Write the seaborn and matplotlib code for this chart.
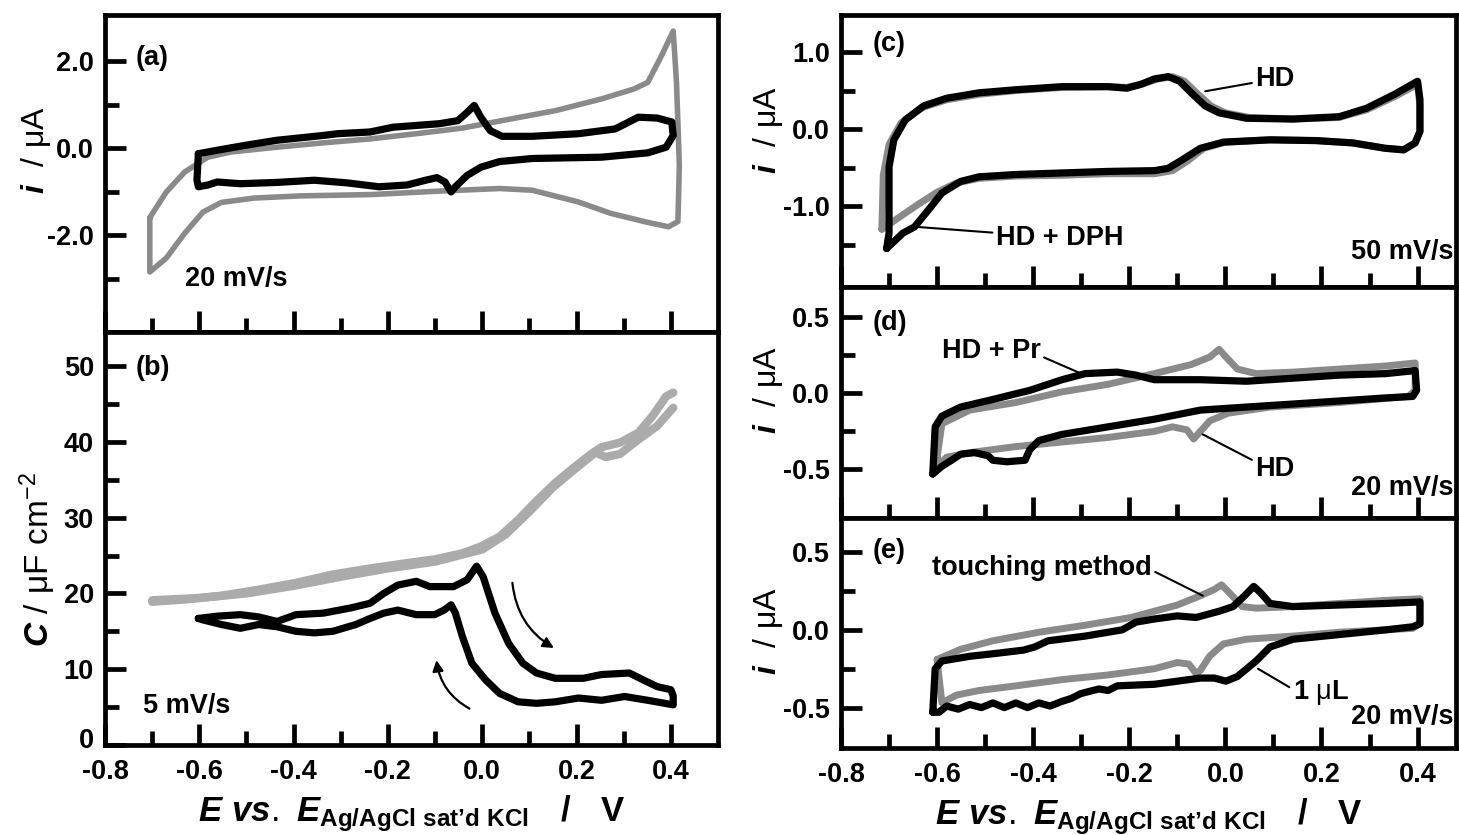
import numpy as np
import matplotlib
matplotlib.use('Agg')
import matplotlib.pyplot as plt
import matplotlib.transforms as mtransforms
import seaborn as sns
from matplotlib import font_manager

# ---------------- data ----------------
# (a) CV at 20 mV/s
a_gray_E = [-0.705, -0.705, -0.67, -0.631, -0.592, -0.553, -0.484, -0.386, -0.238, -0.091, 0.037, 0.106,
            0.204, 0.272, 0.351, 0.395, 0.415, 0.418, 0.412, 0.405, 0.380, 0.351, 0.322, 0.253, 0.155,
            0.056, -0.042, -0.140, -0.238, -0.337, -0.435, -0.533, -0.582, -0.631, -0.670, -0.705]
a_gray_i = [-1.60, -2.85, -2.53, -1.96, -1.47, -1.25, -1.15, -1.10, -1.07, -0.99, -0.93, -0.97,
            -1.24, -1.50, -1.71, -1.81, -1.69, -0.40, 1.51, 2.69, 2.12, 1.51, 1.36, 1.13, 0.86,
            0.66, 0.46, 0.33, 0.21, 0.12, 0.02, -0.09, -0.21, -0.55, -1.01, -1.60]
a_black_E = [-0.602, -0.562, -0.504, -0.435, -0.337, -0.307, -0.238, -0.189, -0.091, -0.052, -0.032, -0.017,
             -0.003, 0.017, 0.042, 0.106, 0.204, 0.282, 0.331, 0.371, 0.402, 0.405, 0.390, 0.351, 0.253,
             0.106, 0.037, -0.003, -0.032, -0.057, -0.066, -0.079, -0.096, -0.120, -0.160, -0.219, -0.287,
             -0.356, -0.435, -0.513, -0.562, -0.582, -0.602, -0.605, -0.602]
a_black_i = [-0.13, -0.05, 0.06, 0.18, 0.29, 0.33, 0.37, 0.48, 0.56, 0.63, 0.82, 0.98,
             0.71, 0.40, 0.27, 0.27, 0.33, 0.44, 0.71, 0.69, 0.60, 0.29, 0.02, -0.11, -0.21,
             -0.24, -0.31, -0.44, -0.63, -0.89, -1.01, -0.78, -0.68, -0.74, -0.85, -0.89, -0.80,
             -0.74, -0.79, -0.82, -0.78, -0.85, -0.89, -0.74, -0.13]

# (b) capacitance at 5 mV/s
b_gray1_E = [-0.700, -0.631, -0.553, -0.474, -0.395, -0.317, -0.238, -0.160, -0.101, -0.042, -0.003, 0.037,
             0.076, 0.115, 0.155, 0.194, 0.233, 0.253, 0.292, 0.331, 0.361, 0.390, 0.405]
b_gray1_C = [18.9, 19.2, 19.7, 20.5, 21.4, 22.5, 23.3, 24.0, 24.5, 25.3, 26.2, 27.5,
             29.7, 32.2, 34.6, 36.6, 38.5, 39.3, 39.9, 41.2, 43.4, 46.0, 46.5]
b_gray2_E = [-0.700, -0.600, -0.500, -0.400, -0.300, -0.200, -0.100, 0.000, 0.050, 0.100, 0.150, 0.200,
             0.240, 0.262, 0.292, 0.331, 0.371, 0.405]
b_gray2_C = [19.1, 19.4, 20.0, 21.0, 22.2, 23.3, 24.2, 25.8, 27.8, 30.8, 34.0, 36.6,
             38.6, 38.0, 38.4, 40.3, 42.1, 44.5]
b_black_E = [-0.602, -0.562, -0.513, -0.474, -0.435, -0.395, -0.337, -0.278, -0.238, -0.209, -0.179, -0.140,
             -0.111, -0.061, -0.032, -0.012, 0.002, 0.027, 0.056, 0.086, 0.115, 0.155, 0.214, 0.253,
             0.312, 0.341, 0.371, 0.400, 0.405, 0.405, 0.351, 0.302, 0.253, 0.204, 0.155, 0.115,
             0.076, 0.037, 0.007, -0.022, -0.042, -0.057, -0.066, -0.081, -0.101, -0.140, -0.179, -0.209,
             -0.238, -0.268, -0.317, -0.356, -0.395, -0.435, -0.474, -0.513, -0.553, -0.592, -0.602]
b_black_C = [16.7, 17.0, 17.2, 16.9, 16.3, 17.2, 17.4, 18.1, 18.7, 20.0, 21.1, 21.6,
             20.9, 20.9, 21.8, 23.6, 22.2, 17.4, 13.4, 10.8, 9.5, 8.8, 8.8, 9.3,
             9.5, 8.6, 7.7, 7.3, 6.5, 5.3, 5.9, 6.4, 5.9, 6.2, 5.7, 5.5,
             5.7, 6.8, 8.6, 10.8, 14.3, 17.4, 18.5, 17.8, 17.2, 17.2, 17.8, 17.4,
             16.7, 15.9, 15.0, 14.8, 15.0, 15.6, 15.9, 15.4, 15.9, 16.5, 16.7]

# (c) HD vs HD + DPH, 50 mV/s
c_gray_E = [-0.715, -0.712, -0.700, -0.675, -0.630, -0.580, -0.513, -0.436, -0.340, -0.244, -0.205, -0.170,
            -0.140, -0.110, -0.085, -0.060, -0.030, 0.000, 0.050, 0.140, 0.237, 0.294, 0.352, 0.400,
            0.405, 0.405, 0.395, 0.371, 0.333, 0.265, 0.189, 0.093, 0.000, -0.045, -0.080, -0.110,
            -0.148, -0.244, -0.340, -0.436, -0.513, -0.560, -0.600, -0.640, -0.680, -0.715]
c_gray_i = [-1.30, -0.60, -0.20, 0.08, 0.28, 0.38, 0.45, 0.50, 0.54, 0.55, 0.54, 0.59,
            0.65, 0.68, 0.62, 0.47, 0.30, 0.21, 0.15, 0.13, 0.15, 0.25, 0.42, 0.58,
            0.30, -0.03, -0.18, -0.27, -0.25, -0.18, -0.15, -0.14, -0.17, -0.25, -0.42, -0.54,
            -0.58, -0.58, -0.60, -0.61, -0.64, -0.70, -0.82, -0.98, -1.15, -1.30]
c_black_E = [-0.705, -0.700, -0.700, -0.690, -0.666, -0.628, -0.580, -0.513, -0.436, -0.340, -0.244, -0.205,
             -0.176, -0.148, -0.119, -0.095, -0.071, -0.042, -0.013, 0.044, 0.141, 0.237, 0.294, 0.352,
             0.400, 0.405, 0.405, 0.395, 0.371, 0.333, 0.265, 0.189, 0.093, -0.004, -0.052, -0.090,
             -0.119, -0.148, -0.244, -0.340, -0.436, -0.513, -0.551, -0.590, -0.618, -0.647, -0.671, -0.705]
c_black_i = [-1.55, -1.35, -0.49, -0.14, 0.12, 0.30, 0.40, 0.47, 0.51, 0.55, 0.55, 0.53,
             0.58, 0.65, 0.68, 0.62, 0.47, 0.30, 0.21, 0.14, 0.13, 0.16, 0.27, 0.45,
             0.62, 0.38, -0.03, -0.18, -0.27, -0.25, -0.18, -0.15, -0.14, -0.17, -0.25, -0.40,
             -0.51, -0.54, -0.55, -0.57, -0.59, -0.62, -0.68, -0.83, -1.05, -1.27, -1.35, -1.55]

# (d) HD vs HD + Pr, 20 mV/s
d_gray_E = [-0.600, -0.590, -0.532, -0.436, -0.340, -0.244, -0.148, -0.071, -0.032, -0.013, 0.001, 0.025,
            0.064, 0.141, 0.237, 0.333, 0.395, 0.395, 0.381, 0.237, 0.093, 0.006, -0.032, -0.052,
            -0.066, -0.080, -0.110, -0.148, -0.244, -0.340, -0.436, -0.532, -0.580, -0.600, -0.600]
d_gray_i = [-0.42, -0.20, -0.11, -0.06, 0.01, 0.06, 0.13, 0.19, 0.24, 0.29, 0.24, 0.16,
            0.13, 0.14, 0.16, 0.18, 0.20, 0.02, -0.02, -0.06, -0.09, -0.13, -0.18, -0.25,
            -0.30, -0.24, -0.22, -0.25, -0.29, -0.32, -0.35, -0.39, -0.42, -0.48, -0.42]
d_black_E = [-0.609, -0.604, -0.590, -0.551, -0.484, -0.407, -0.340, -0.292, -0.225, -0.186, -0.148, -0.052,
             0.044, 0.141, 0.237, 0.333, 0.395, 0.398, 0.390, 0.333, 0.237, 0.141, 0.044, -0.052,
             -0.148, -0.244, -0.340, -0.388, -0.407, -0.417, -0.455, -0.484, -0.494, -0.522, -0.551, -0.570,
             -0.590, -0.609]
d_black_i = [-0.53, -0.22, -0.15, -0.09, -0.04, 0.02, 0.09, 0.13, 0.14, 0.12, 0.09, 0.09,
             0.08, 0.10, 0.12, 0.13, 0.15, 0.02, -0.02, -0.03, -0.05, -0.07, -0.09, -0.11,
             -0.17, -0.22, -0.27, -0.31, -0.37, -0.44, -0.45, -0.44, -0.41, -0.39, -0.40, -0.44,
             -0.48, -0.53]

# (e) touching method vs 1 uL, 20 mV/s
e_gray_E = [-0.600, -0.551, -0.484, -0.388, -0.292, -0.196, -0.100, -0.052, -0.023, -0.008, 0.011, 0.035,
            0.064, 0.141, 0.237, 0.333, 0.405, 0.405, 0.390, 0.237, 0.141, 0.044, -0.004, -0.033,
            -0.052, -0.061, -0.076, -0.100, -0.148, -0.244, -0.340, -0.436, -0.513, -0.560, -0.590, -0.600]
e_gray_i = [-0.19, -0.125, -0.07, -0.015, 0.03, 0.08, 0.16, 0.22, 0.26, 0.29, 0.23, 0.15,
            0.14, 0.15, 0.17, 0.19, 0.20, 0.04, 0.01, -0.015, -0.04, -0.06, -0.09, -0.17,
            -0.26, -0.28, -0.22, -0.21, -0.25, -0.29, -0.32, -0.36, -0.39, -0.42, -0.47, -0.19]
e_black_E = [-0.609, -0.604, -0.590, -0.532, -0.474, -0.420, -0.397, -0.369, -0.292, -0.215, -0.186, -0.148,
             -0.100, -0.061, -0.013, 0.016, 0.040, 0.059, 0.073, 0.093, 0.141, 0.237, 0.333, 0.405,
             0.405, 0.390, 0.333, 0.237, 0.141, 0.093, 0.064, 0.025, 0.001, -0.023, -0.052, -0.148,
             -0.225, -0.244, -0.263, -0.301, -0.320, -0.340, -0.365, -0.388, -0.412, -0.436, -0.460, -0.484,
             -0.508, -0.532, -0.556, -0.580, -0.596, -0.609]
e_black_i = [-0.53, -0.25, -0.20, -0.17, -0.15, -0.13, -0.11, -0.07, -0.04, 0.00, 0.05, 0.07,
             0.09, 0.08, 0.12, 0.15, 0.22, 0.28, 0.24, 0.17, 0.15, 0.16, 0.17, 0.18,
             0.04, 0.02, 0.00, -0.03, -0.06, -0.11, -0.20, -0.30, -0.33, -0.31, -0.31, -0.35,
             -0.36, -0.39, -0.38, -0.41, -0.44, -0.46, -0.49, -0.47, -0.50, -0.47, -0.50, -0.47,
             -0.50, -0.48, -0.51, -0.49, -0.53, -0.53]

x_major = [-0.8, -0.6, -0.4, -0.2, 0.0, 0.2, 0.4]
x_minor = [-0.7, -0.5, -0.3, -0.1, 0.1, 0.3]
x_labels = ['-0.8', '-0.6', '-0.4', '-0.2', '0.0', '0.2', '0.4']

# ---------------- style ----------------
sns.set_theme(style='ticks')
names = {f.name for f in font_manager.fontManager.ttflist}
fam = next((f for f in ['Liberation Sans', 'Arial', 'DejaVu Sans'] if f in names), 'DejaVu Sans')
plt.rcParams.update({
    'font.family': [fam, 'DejaVu Sans'],
    'font.weight': 'bold',
    'axes.unicode_minus': False,
    'mathtext.fontset': 'custom',
    'mathtext.rm': fam + ':normal',
    'mathtext.it': fam + ':italic:bold',
    'mathtext.bf': fam + ':bold',
    'axes.edgecolor': 'black',
    'text.color': 'black',
    'axes.labelcolor': 'black',
    'xtick.color': 'black',
    'ytick.color': 'black',
    'xtick.labelcolor': 'black',
    'ytick.labelcolor': 'black',
})

GRAY = '#8a8a8a'
LGRAY = '#ababab'
TXT = 19.5

fig = plt.figure(figsize=(14.59, 8.35), dpi=100)
W, H = 1459, 835


def add(l, t, r, b):
    return fig.add_axes([l / W, (H - b) / H, (r - l) / W, (b - t) / H])


ax_a = add(105, 15, 718, 332)
ax_b = add(105, 332, 718, 745)
ax_c = add(841, 15, 1456, 287)
ax_d = add(841, 287, 1456, 518)
ax_e = add(841, 518, 1456, 748)


def style(ax, xmax, ylim, ymaj, ymaj_lab, ymin, xlab):
    ax.set_xlim(-0.8, xmax)
    ax.set_ylim(*ylim)
    ax.set_xticks(x_major)
    ax.set_xticks(x_minor, minor=True)
    ax.set_xticklabels(x_labels if xlab else [])
    ax.set_yticks(ymaj)
    ax.set_yticklabels(ymaj_lab)
    ax.set_yticks(ymin, minor=True)
    ax.tick_params(which='both', direction='in', width=3.4, color='black', labelcolor='black',
                   left=True, bottom=True, top=False, right=False, labelsize=19.5)
    ax.tick_params(which='major', length=15, pad=8)
    ax.tick_params(which='minor', length=10)
    ax.tick_params(axis='x', which='major', pad=10)
    for s in ax.spines.values():
        s.set_linewidth(3.4)
        s.set_color('black')
    for lab in ax.get_xticklabels() + ax.get_yticklabels():
        lab.set_fontweight('bold')
    ax.set_xlabel('')
    ax.set_ylabel('')


def line(ax, E, y, color, lw, z):
    sns.lineplot(x=E, y=y, ax=ax, sort=False, estimator=None, color=color, lw=lw,
                 zorder=z, solid_joinstyle='round', solid_capstyle='round')


# (a)
line(ax_a, a_gray_E, a_gray_i, GRAY, 4, 2)
line(ax_a, a_black_E, a_black_i, 'black', 5.2, 3)
style(ax_a, 0.5, (-4.23, 3.06), [2, 0, -2], ['2.0', '0.0', '-2.0'], [1, -1, -3], False)
ax_a.text(-0.735, 2.08, '(a)', fontsize=TXT, va='center')
ax_a.text(-0.63, -3.0, '20 mV/s', fontsize=TXT, va='center')

# (b)
line(ax_b, b_gray1_E, b_gray1_C, LGRAY, 6, 2)
line(ax_b, b_gray2_E, b_gray2_C, LGRAY, 6, 2)
line(ax_b, b_black_E, b_black_C, 'black', 5.2, 3)
style(ax_b, 0.5, (0, 54.5), [0, 10, 20, 30, 40, 50], ['0', '10', '20', '30', '40', '50'],
      [5, 15, 25, 35, 45], True)
# lift the "0" a little so it clears the x tick label below it
zero_lab = ax_b.get_yticklabels()[0]
zero_lab.set_transform(zero_lab.get_transform() +
                       mtransforms.ScaledTranslation(0, 5 / 72, fig.dpi_scale_trans))
ax_b.text(-0.735, 49.8, '(b)', fontsize=TXT, va='center')
ax_b.text(-0.72, 5.1, '5 mV/s', fontsize=TXT, va='center')
ax_b.annotate('', xy=(0.152, 12.8), xytext=(0.064, 21.4),
              arrowprops=dict(arrowstyle='-|>', color='black', lw=1.6, mutation_scale=16,
                              connectionstyle='arc3,rad=0.25', shrinkA=0, shrinkB=0))
ax_b.annotate('', xy=(-0.097, 11.2), xytext=(-0.027, 4.8),
              arrowprops=dict(arrowstyle='-|>', color='black', lw=1.6, mutation_scale=16,
                              connectionstyle='arc3,rad=-0.25', shrinkA=0, shrinkB=0))

# (c)
line(ax_c, c_gray_E, c_gray_i, GRAY, 5, 2)
line(ax_c, c_black_E, c_black_i, 'black', 5.2, 3)
style(ax_c, 0.48, (-2.05, 1.48), [1, 0, -1], ['1.0', '0.0', '-1.0'], [0.5, -0.5, -1.5], False)
ax_c.text(-0.735, 1.10, '(c)', fontsize=TXT, va='center')
ax_c.text(0.474, -1.60, '50 mV/s', fontsize=TXT, va='center', ha='right')
ax_c.annotate('HD', xy=(-0.042, 0.49), xytext=(0.062, 0.65), fontsize=TXT, va='center',
              arrowprops=dict(arrowstyle='-', color='black', lw=1.5, shrinkA=0, shrinkB=0))
ax_c.annotate('HD + DPH', xy=(-0.642, -1.27), xytext=(-0.478, -1.41), fontsize=TXT, va='center',
              arrowprops=dict(arrowstyle='-', color='black', lw=1.5, shrinkA=0, shrinkB=0))

# (d)
line(ax_d, d_gray_E, d_gray_i, GRAY, 5, 2)
line(ax_d, d_black_E, d_black_i, 'black', 5.2, 3)
style(ax_d, 0.48, (-0.82, 0.70), [0.5, 0, -0.5], ['0.5', '0.0', '-0.5'], [0.25, -0.25], False)
ax_d.text(-0.735, 0.46, '(d)', fontsize=TXT, va='center')
ax_d.text(0.474, -0.62, '20 mV/s', fontsize=TXT, va='center', ha='right')
ax_d.annotate('HD + Pr', xy=(-0.30, 0.13), xytext=(-0.59, 0.28), fontsize=TXT, va='center',
              arrowprops=dict(arrowstyle='-', color='black', lw=1.5, shrinkA=0, shrinkB=0,
                              relpos=(1, 0.3)))
ax_d.annotate('HD', xy=(-0.047, -0.27), xytext=(0.062, -0.50), fontsize=TXT, va='center',
              arrowprops=dict(arrowstyle='-', color='black', lw=1.5, shrinkA=0, shrinkB=0,
                              relpos=(0, 0.8)))

# (e)
line(ax_e, e_gray_E, e_gray_i, GRAY, 5, 2)
line(ax_e, e_black_E, e_black_i, 'black', 5.2, 3)
style(ax_e, 0.48, (-0.76, 0.72), [0.5, 0, -0.5], ['0.5', '0.0', '-0.5'], [0.25, -0.25], True)
ax_e.text(-0.735, 0.51, '(e)', fontsize=TXT, va='center')
ax_e.text(0.474, -0.56, '20 mV/s', fontsize=TXT, va='center', ha='right')
ax_e.annotate('touching method', xy=(-0.047, 0.22), xytext=(-0.61, 0.40), fontsize=TXT, va='center',
              arrowprops=dict(arrowstyle='-', color='black', lw=1.5, shrinkA=0, shrinkB=0,
                              relpos=(1, 0.4)))
ax_e.annotate(r'1 $\mathrm{\mu}$L', xy=(0.068, -0.25), xytext=(0.14, -0.40), fontsize=TXT, va='center',
              arrowprops=dict(arrowstyle='-', color='black', lw=1.5, shrinkA=0, shrinkB=0,
                              relpos=(0, 0.6)))

# axis labels
ilab = r'$\mathit{i}\ \ \mathrm{/\ \mu A}$'
for ax, y in [(ax_a, 0.574), (ax_c, 0.577), (ax_d, 0.554), (ax_e, 0.509)]:
    ax.set_ylabel(ilab, fontsize=23)
    ax.yaxis.set_label_coords(-0.118 if ax is not ax_a else -0.113, y)
    ax.yaxis.label.set_va('center')
ax_b.set_ylabel(r'$\mathit{C}\ \mathrm{/\ \mu F\ cm^{-2}}$', fontsize=24)
ax_b.yaxis.set_label_coords(-0.11, 0.45)
ax_b.yaxis.label.set_va('center')

xlab = r"$\mathit{E\ vs.\ E}_{\mathbf{Ag/AgCl\ sat’d\ KCl}}\ \ \ \mathbf{/}\ \ \ \mathbf{V}$"
for ax in (ax_b, ax_e):
    ax.set_xlabel(xlab, fontsize=25, labelpad=6)

fig.savefig('out.png', dpi=100)
